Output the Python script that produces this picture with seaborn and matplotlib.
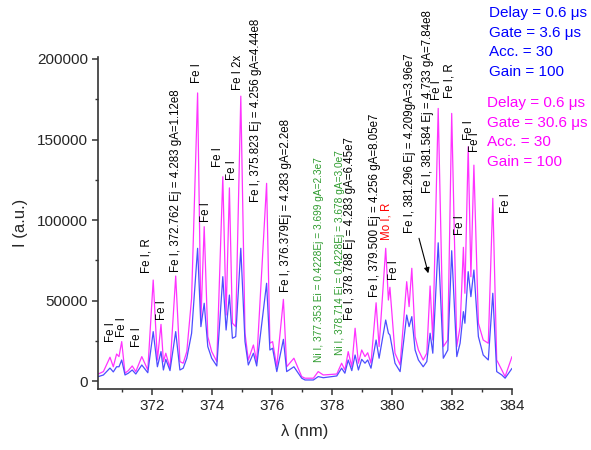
import matplotlib
matplotlib.use("Agg")
import matplotlib.pyplot as plt
import seaborn as sns
import pandas as pd
from matplotlib.ticker import MultipleLocator, FuncFormatter

# Emission spectrum: wavelength (nm) and intensity for two gate settings
wavelength = [
    370.21, 370.38, 370.60, 370.71, 370.82, 370.90, 370.99, 371.10, 371.21, 371.34,
    371.46, 371.66, 371.86, 372.04, 372.18, 372.30, 372.38, 372.46, 372.60, 372.79,
    372.93, 373.04, 373.16, 373.32, 373.52, 373.63, 373.74, 373.86, 373.99, 374.16,
    374.36, 374.47, 374.58, 374.68, 374.79, 374.96, 375.10, 375.21, 375.38, 375.49,
    375.82, 375.93, 376.02, 376.16, 376.38, 376.49, 376.73, 376.99, 377.10, 377.38,
    377.54, 377.71, 378.16, 378.32, 378.43, 378.54, 378.66, 378.77, 378.88, 378.99,
    379.10, 379.19, 379.30, 379.47, 379.57, 379.79, 379.88, 379.93, 380.10, 380.27,
    380.49, 380.57, 380.66, 380.77, 380.88, 381.04, 381.16, 381.27, 381.36, 381.54,
    381.71, 381.86, 381.99, 382.16, 382.27, 382.38, 382.43, 382.54, 382.63, 382.73,
    382.88, 383.04, 383.21, 383.36, 383.49, 383.66, 383.77, 384.00,
]
intensity_gate_30_6 = [
    4500, 6000, 14900, 9000, 16900, 15300, 24600, 5000, 6600, 9500,
    6000, 15300, 7000, 62800, 13200, 35300, 12200, 17400, 8100, 65300,
    12200, 11200, 18400, 51500, 178900, 38000, 95900, 27700, 18400, 12200,
    126900, 41100, 120000, 36000, 33900, 176900, 29800, 13200, 22500, 12200,
    122800, 23600, 24600, 9000, 50800, 9000, 14300, 2900, 1900, 1900,
    6000, 3900, 4500, 11200, 7000, 18400, 9000, 32900, 11200, 19400,
    15300, 17700, 11200, 48700, 21500, 82500, 50400, 58300, 17400, 10100,
    61800, 46300, 70100, 27700, 19400, 13200, 17400, 59100, 25600, 169300,
    21500, 25600, 166200, 21500, 33900, 83100, 54600, 145500, 64900, 134100,
    36000, 25600, 23600, 113500, 13200, 7000, 2900, 15300,
]
intensity_gate_3_6 = [
    2900, 3900, 8200, 5800, 9000, 9000, 13200, 3900, 5000, 7000,
    4500, 10100, 5300, 30800, 9000, 18400, 7000, 13600, 6600, 30800,
    7000, 8100, 14300, 29800, 82500, 33900, 48400, 21500, 14300, 9500,
    64900, 31800, 53500, 26700, 27700, 82500, 24600, 10100, 17400, 9500,
    60800, 19400, 20500, 6000, 26000, 6000, 9000, 1900, 800, 800,
    2900, 2200, 3300, 8100, 5000, 13200, 6600, 16300, 7000, 13600,
    11200, 13200, 8100, 25600, 14300, 38000, 29800, 28700, 11200, 6000,
    41100, 33900, 40100, 19400, 13200, 9000, 12200, 29800, 17400, 85900,
    14300, 19400, 81000, 15300, 23600, 43200, 36000, 68000, 52500, 69000,
    27700, 16300, 13200, 54600, 6000, 3900, 1900, 8000,
]

# Line identifications: (wavelength, text base intensity, label, colour, size)
line_labels = [
    (370.63, 24500, "Fe I", "black", 8.3),
    (371.01, 27700, "Fe I", "black", 8.3),
    (371.49, 21500, "Fe I", "black", 8.3),
    (371.82, 67000, "Fe I, R", "black", 8.3),
    (372.32, 38000, "Fe I", "black", 8.3),
    (372.80, 68000, "Fe I, 372.762 Ej = 4.283 gA=1.12e8", "black", 8.3),
    (373.49, 184800, "Fe I", "black", 8.3),
    (373.80, 99000, "Fe I", "black", 8.3),
    (374.19, 133000, "Fe I", "black", 8.3),
    (374.66, 124800, "Fe I", "black", 8.3),
    (374.88, 180600, "Fe I 2x", "black", 8.3),
    (375.47, 111400, "Fe I, 375.823 Ej = 4.256 gA=4.44e8", "black", 8.3),
    (376.46, 55600, "Fe I, 376.379Ej = 4.283 gA=2.2e8", "black", 8.3),
    (377.57, 12200, "Ni I, 377.353 Ei = 0.4228Ej = 3.699 gA=2.3e7", "#2E9B2E", 7.3),
    (378.27, 16300, "Ni I, 378.714 Ei = 0.4228Ej = 3.678 gA=3.0e7", "#2E9B2E", 7.3),
    (378.60, 38000, "Fe I, 378.788 Ej = 4.283 gA=6.45e7", "black", 8.3),
    (379.43, 52500, "Fe I, 379.500 Ej = 4.256 gA=8.05e7", "black", 8.3),
    (379.82, 87600, "Mo I, R", "#FF0000", 8.3),
    (380.08, 62800, "Fe I", "black", 8.3),
    (380.60, 91800, "Fe I, 381.296 Ej = 4.209gA=3.96e7", "black", 8.3),
    (381.21, 116600, "Fe I, 381.584 Ej = 4.733 gA=7.84e8", "black", 8.3),
    (381.50, 174400, "Fe I", "black", 8.3),
    (381.93, 175500, "Fe I, R", "black", 8.3),
    (382.27, 90700, "Fe I", "black", 8.3),
    (382.55, 149600, "Fe I", "black", 8.3),
    (382.76, 142300, "Fe I", "black", 8.3),
    (383.79, 104200, "Fe I", "black", 8.3),
]

blue_settings = ["Delay = 0.6 \u03bcs", "Gate = 3.6 \u03bcs", "Acc. = 30", "Gain = 100"]
magenta_settings = ["Delay = 0.6 \u03bcs", "Gate = 30.6 \u03bcs", "Acc. = 30", "Gain = 100"]

sns.set_style("ticks")
plt.rcParams["font.family"] = ["Liberation Sans", "DejaVu Sans"]

df = pd.DataFrame({
    "wavelength": wavelength * 2,
    "intensity": intensity_gate_30_6 + intensity_gate_3_6,
    "gate": ["30.6"] * len(wavelength) + ["3.6"] * len(wavelength),
})

fig = plt.figure(figsize=(5.91, 4.50), dpi=100)
ax = fig.add_axes([98 / 591, 1 - 389 / 450, (512 - 98) / 591, (389 - 57) / 450])

sns.lineplot(data=df, x="wavelength", y="intensity", hue="gate",
             palette={"30.6": "#FF33FF", "3.6": "#4D4DFF"},
             hue_order=["30.6", "3.6"], sort=False, estimator=None,
             linewidth=0.9, legend=False, ax=ax)

ax.set_xlim(370.2, 384.0)
ax.set_ylim(-4800, 201200)

ax.xaxis.set_major_locator(MultipleLocator(2))
ax.xaxis.set_minor_locator(MultipleLocator(1))
ax.yaxis.set_major_locator(MultipleLocator(50000))
ax.yaxis.set_minor_locator(MultipleLocator(25000))
ax.xaxis.set_major_formatter(FuncFormatter(lambda v, p: f"{v:.0f}"))
ax.yaxis.set_major_formatter(FuncFormatter(lambda v, p: f"{v:.0f}"))

for side in ("top", "right"):
    ax.spines[side].set_visible(False)
for side in ("left", "bottom"):
    ax.spines[side].set_color("#333333")
    ax.spines[side].set_linewidth(1.2)

ax.tick_params(which="major", direction="out", length=4, width=1.1,
               color="#333333", labelsize=11, pad=3)
ax.tick_params(which="minor", direction="out", length=2.5, width=1.0,
               color="#333333")

ax.set_xlabel("\u03bb (nm)", fontsize=12)
ax.set_ylabel("I (a.u.)", fontsize=12)
ax.xaxis.set_label_coords(0.5, -0.105)
ax.yaxis.set_label_coords(-0.168, 0.5)

for x, y, s, c, fs in line_labels:
    ax.text(x, y, s, rotation=90, ha="center", va="bottom",
            color=c, fontsize=fs)

ax.annotate("", xy=(381.21, 67000), xytext=(380.90, 88700),
            arrowprops=dict(arrowstyle="-|>", color="black", lw=0.8,
                            mutation_scale=8, shrinkA=0, shrinkB=0))

for i, s in enumerate(blue_settings):
    fig.text(489 / 591, 1 - (13.3 + 19.5 * i) / 450, s, color="#0000FF",
             fontsize=11, ha="left", va="center")
for i, s in enumerate(magenta_settings):
    fig.text(487 / 591, 1 - (103 + 19.7 * i) / 450, s, color="#FF00FF",
             fontsize=11, ha="left", va="center")

fig.savefig("out.png", dpi=100)
